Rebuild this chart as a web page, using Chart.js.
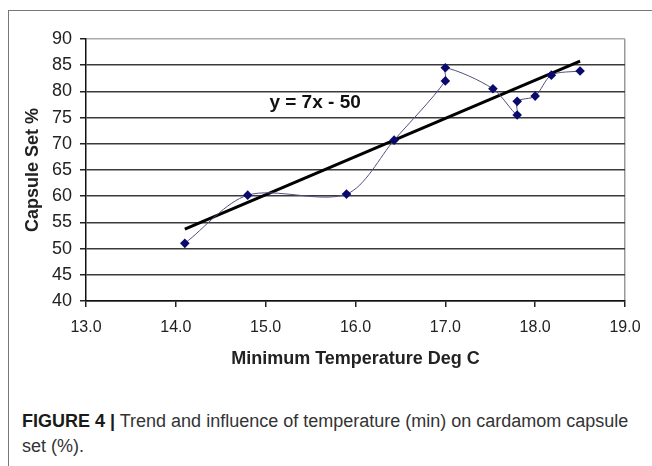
<!DOCTYPE html>
<html>
<head>
<meta charset="utf-8">
<script src="https://cdn.jsdelivr.net/npm/chart.js@4"></script>
<style>
  html, body { margin: 0; padding: 0; background: #fff; }
  body { width: 652px; height: 466px; position: relative; overflow: hidden; }
  #frame { position: absolute; left: 8px; top: 10px; width: 700px; height: 500px;
           border-left: 1.5px solid #777; border-top: 1.5px solid #777; box-sizing: border-box; }
  #c { position: absolute; left: 0; top: 0; }
  #caption { position: absolute; left: 22px; top: 409px; width: 622px;
             font-family: "Liberation Sans", Arial, sans-serif; font-size: 18px; line-height: 25px;
             color: #333; }
  #caption b { color: #1a1a1a; }
</style>
</head>
<body>
<div id="frame"></div>
<canvas id="c" width="652" height="395"></canvas>
<div id="caption"><b>FIGURE 4 |</b> Trend and influence of temperature (min) on cardamom capsule set (%).</div>
<script>
// Data
const tempMin   = [14.1, 14.8, 15.9, 16.43, 17.0, 17.0, 17.53, 17.8, 17.8, 18.0, 18.18, 18.5];
const capsuleSet = [51.0, 60.2, 60.4, 70.7, 82.0, 84.5, 80.5, 75.5, 78.1, 79.1, 83.1, 83.9];
const trendX = [14.1, 18.5];
const trendY = [53.7, 85.8];
const xTicks = [13, 14, 15, 16, 17, 18, 19];
const yTicks = [40, 45, 50, 55, 60, 65, 70, 75, 80, 85, 90];
const equationText = "y = 7x - 50";
const equationAt = { x: 15.55, y: 77.8 };

const points = tempMin.map((x, i) => ({ x: x, y: capsuleSet[i] }));
const trend = trendX.map((x, i) => ({ x: x, y: trendY[i] }));

const FONT = "'Liberation Sans', Arial, sans-serif";

const eqPlugin = {
  id: 'eq',
  afterDatasetsDraw(chart) {
    const { ctx, scales } = chart;
    ctx.save();
    ctx.font = "bold 19px " + FONT;
    ctx.fillStyle = "#111";
    ctx.textAlign = "center";
    ctx.textBaseline = "middle";
    ctx.fillText(equationText, scales.x.getPixelForValue(equationAt.x), scales.y.getPixelForValue(equationAt.y));
    ctx.restore();
  }
};

new Chart(document.getElementById('c'), {
  type: 'scatter',
  data: {
    datasets: [
      {
        label: 'Capsule Set',
        data: points,
        showLine: true,
        borderColor: '#50507e',
        borderWidth: 1,
        tension: 0.3,
        pointStyle: 'rectRot',
        pointRadius: 4.8,
        pointBackgroundColor: '#0a0a6e',
        pointBorderColor: '#0a0a6e',
        pointBorderWidth: 0,
        order: 1
      },
      {
        label: 'Trend',
        data: trend,
        showLine: true,
        borderColor: '#000',
        borderWidth: 3,
        pointRadius: 0,
        order: 2
      }
    ]
  },
  options: {
    responsive: false,
    animation: false,
    devicePixelRatio: 1,
    layout: { padding: { left: 0, top: 39, right: 27, bottom: 0 } },
    plugins: { legend: { display: false }, tooltip: { enabled: false } },
    scales: {
      x: {
        type: 'linear',
        min: 13, max: 19,
        afterBuildTicks: s => { s.ticks = xTicks.map(v => ({ value: v })); },
        afterFit: s => { s.height = 94; },
        ticks: { callback: v => Number(v).toFixed(1), color: '#222', font: { family: FONT, size: 16 }, padding: 11, maxRotation: 0 },
        grid: {
          color: ctx => (ctx.tick && ctx.tick.value === 19) ? '#999' : 'rgba(0,0,0,0)',
          tickColor: '#222', tickLength: 6, lineWidth: 1.5
        },
        border: { color: '#111', width: 1.5 },
        title: { display: true, text: 'Minimum Temperature Deg C', color: '#222',
                 font: { family: FONT, size: 18, weight: 'bold', lineHeight: 1.2 }, padding: { top: 0, bottom: 25 } }
      },
      y: {
        min: 40, max: 90,
        afterBuildTicks: s => { s.ticks = yTicks.map(v => ({ value: v })); },
        afterFit: s => { s.width = 86; },
        ticks: { color: '#222', font: { family: FONT, size: 18 }, padding: 8 },
        grid: {
          color: ctx => (ctx.tick && ctx.tick.value === 90) ? '#aaa' : '#3a3a3a',
          tickColor: '#222', tickLength: 6, lineWidth: 1.5
        },
        border: { color: '#111', width: 1.5 },
        title: { display: true, text: 'Capsule Set %', color: '#222',
                 font: { family: FONT, size: 18, weight: 'bold', lineHeight: 1.2 }, padding: { top: 22, bottom: 0 } }
      }
    }
  },
  plugins: [eqPlugin]
});
</script>
</body>
</html>
